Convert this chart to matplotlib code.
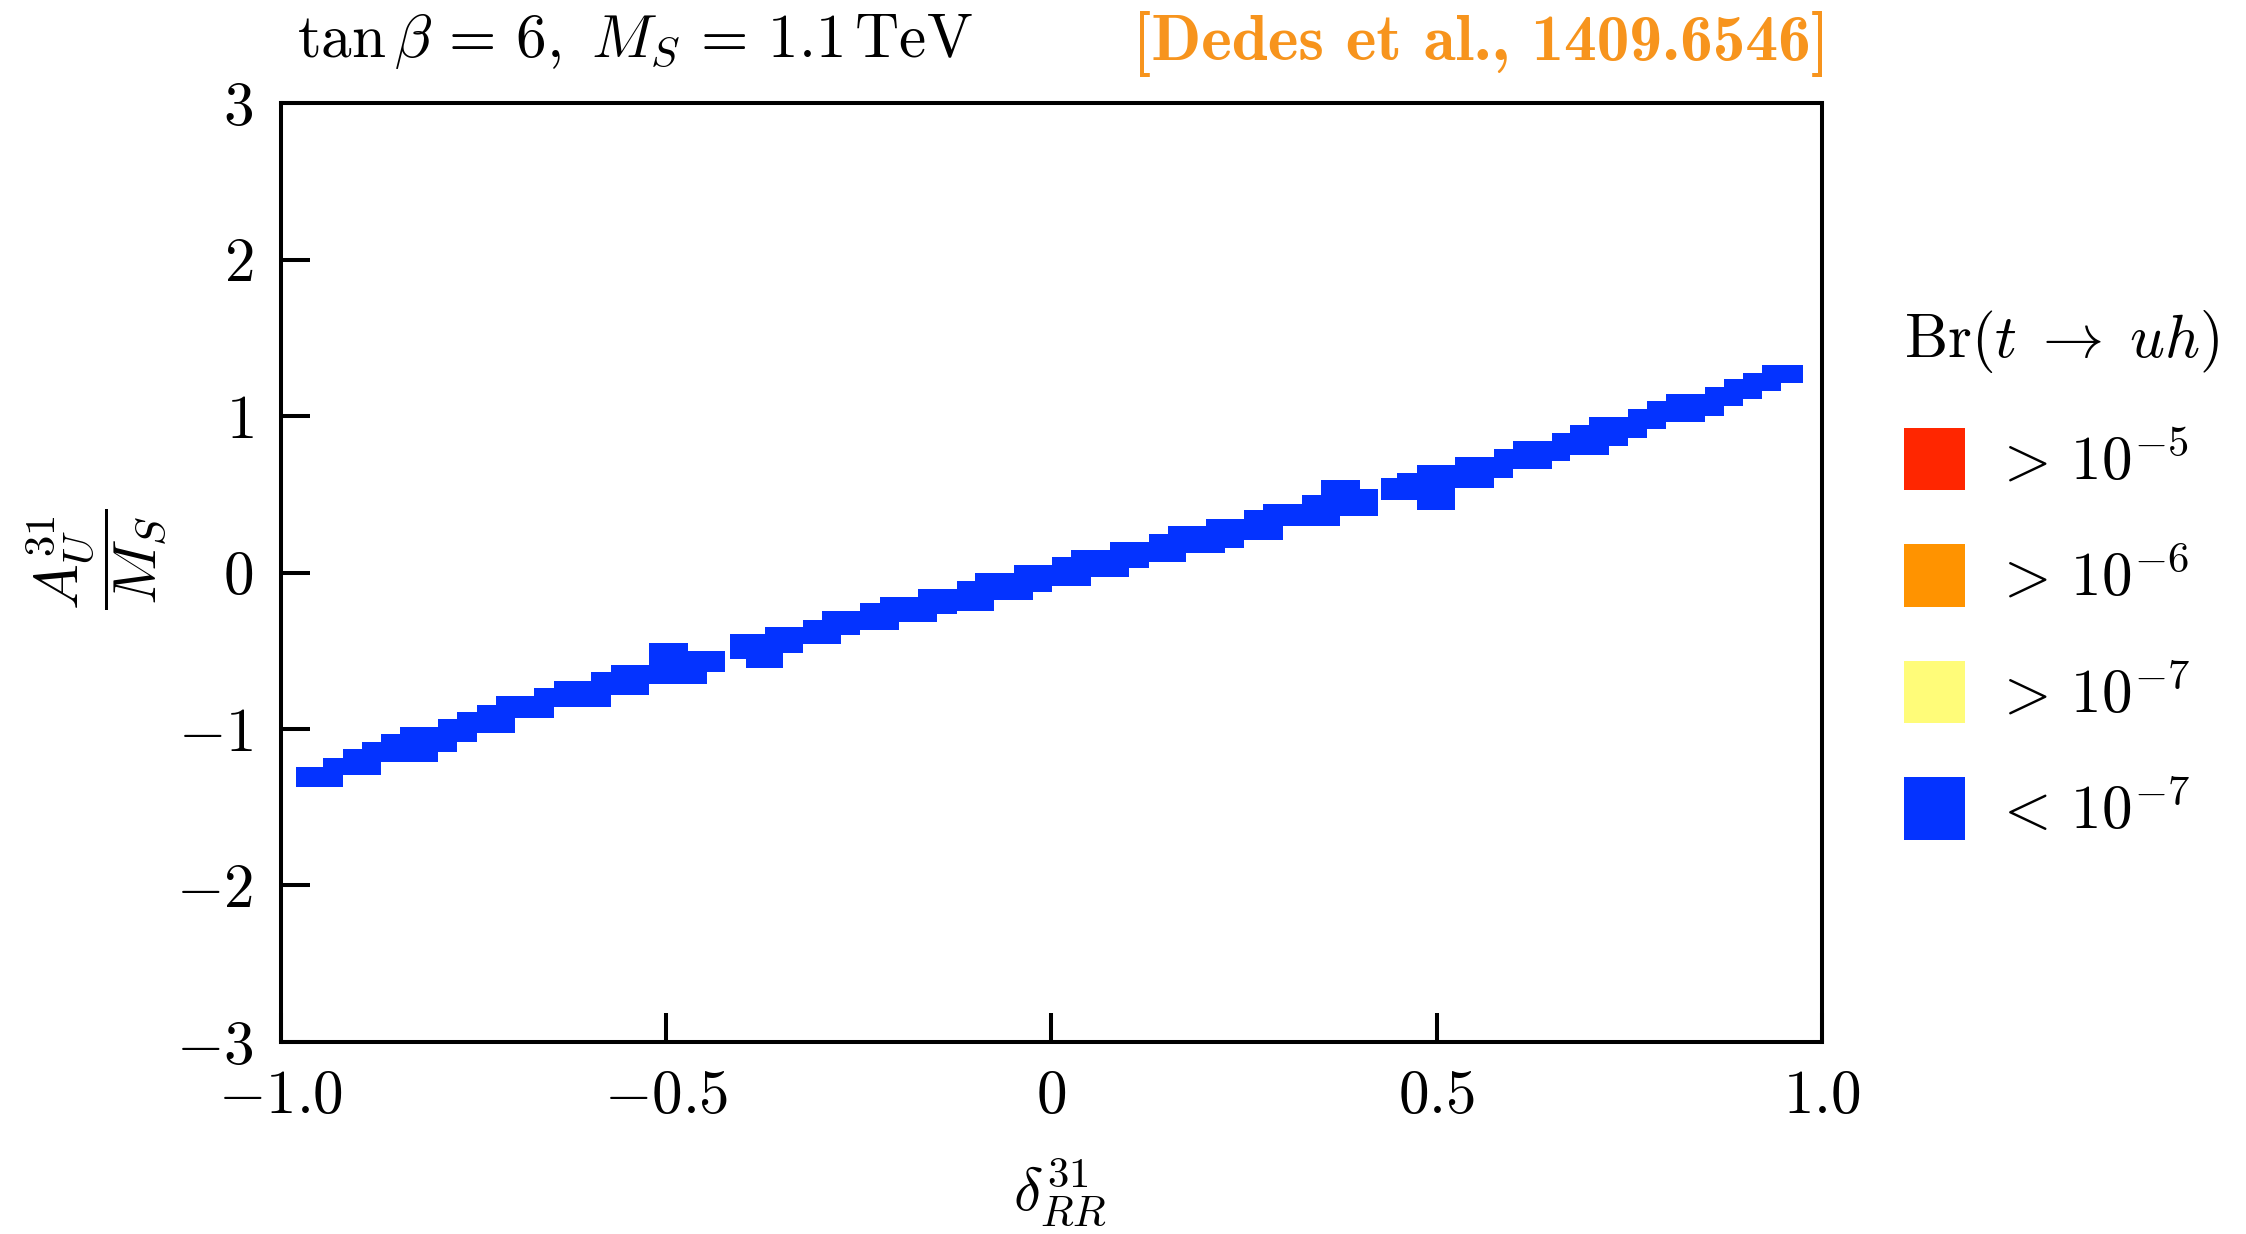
import numpy as np
import matplotlib
matplotlib.use('Agg')
import matplotlib.pyplot as plt
from matplotlib.patches import Patch

plt.rcParams['mathtext.fontset'] = 'cm'
plt.rcParams['font.family'] = 'serif'
plt.rcParams['font.serif'] = ['cmr10']
plt.rcParams['axes.unicode_minus'] = False

# scan in delta_RR^31: left edges of the columns, allowed band A_U^31/M_S (top, bottom)
delta_edges = [-0.980, -0.945, -0.920, -0.895, -0.870, -0.846, -0.821, -0.796, -0.771, -0.746,
               -0.721, -0.696, -0.671, -0.646, -0.621, -0.597, -0.572, -0.547, -0.522, -0.497,
               -0.472, -0.447, -0.422, -0.397, -0.372, -0.348, -0.323, -0.298, -0.273, -0.248,
               -0.223, -0.198, -0.173, -0.148, -0.123, -0.099, -0.074, -0.049, -0.024, 0.001,
               0.026, 0.051, 0.076, 0.101, 0.126, 0.151, 0.175, 0.200, 0.225, 0.250,
               0.275, 0.300, 0.325, 0.350, 0.375, 0.400, 0.424, 0.449, 0.474, 0.499,
               0.524, 0.549, 0.574, 0.599, 0.624, 0.649, 0.673, 0.698, 0.723, 0.748,
               0.773, 0.798, 0.823, 0.848, 0.873, 0.898, 0.922, 0.947, 0.975]

a_top = [-1.240, -1.188, -1.130, -1.084, -1.033, -0.989, -0.989, -0.937, -0.894, -0.844,
         -0.790, -0.790, -0.739, -0.695, -0.695, -0.637, -0.591, -0.591, -0.450, -0.450,
         -0.501, -0.501, -0.393, -0.393, -0.350, -0.350, -0.301, -0.249, -0.249, -0.197,
         -0.155, -0.155, -0.104, -0.104, -0.056, -0.003, -0.003, 0.045, 0.045, 0.097,
         0.144, 0.144, 0.193, 0.193, 0.246, 0.297, 0.297, 0.344, 0.344, 0.399,
         0.437, 0.437, 0.495, 0.591, 0.591, 0.531, 0.602, 0.637, 0.686, 0.686,
         0.736, 0.736, 0.791, 0.840, 0.840, 0.893, 0.941, 0.991, 0.991, 1.042,
         1.095, 1.138, 1.138, 1.186, 1.234, 1.278, 1.325, 1.325]

a_bot = [-1.368, -1.368, -1.293, -1.293, -1.208, -1.208, -1.208, -1.144, -1.084, -1.027,
         -1.027, -0.931, -0.931, -0.857, -0.857, -0.857, -0.784, -0.784, -0.715, -0.715,
         -0.715, -0.637, -0.550, -0.612, -0.612, -0.516, -0.455, -0.455, -0.399, -0.367,
         -0.367, -0.316, -0.316, -0.267, -0.246, -0.246, -0.173, -0.173, -0.123, -0.085,
         -0.085, -0.026, -0.026, 0.027, 0.069, 0.069, 0.123, 0.123, 0.155, 0.208,
         0.208, 0.300, 0.300, 0.300, 0.361, 0.361, 0.463, 0.463, 0.399, 0.399,
         0.538, 0.538, 0.602, 0.661, 0.661, 0.713, 0.750, 0.750, 0.810, 0.857,
         0.914, 0.959, 0.959, 1.001, 1.063, 1.106, 1.161, 1.208]

# small empty slits in the band
gap_idx = [22, 56]
gap_lo = [-0.424, 0.424]
gap_hi = [-0.417, 0.428]

br_labels = [r'$>\,10^{-5}$', r'$>\,10^{-6}$', r'$>\,10^{-7}$', r'$<\,10^{-7}$']
br_colors = ['#FF2600', '#FF9300', '#FFFC79', '#0433FF']

xticks = [-1.0, -0.5, 0.0, 0.5, 1.0]
xticklabels = [r'$-1.0$', r'$-0.5$', r'$0$', r'$0.5$', r'$1.0$']
yticks = [-3, -2, -1, 0, 1, 2, 3]
yticklabels = [r'$-3$', r'$-2$', r'$-1$', r'$0$', r'$1$', r'$2$', r'$3$']

fig = plt.figure(figsize=(22.46, 12.34), dpi=100)
ax = fig.add_axes([0.1251, 0.1556, 0.6861, 0.7609])

starts = [0] + gap_idx
ends = gap_idx + [len(a_top)]
for p in range(len(starts)):
    i0, i1 = starts[p], ends[p]
    xe = list(delta_edges[i0:i1 + 1])
    if p > 0:
        xe[0] = gap_hi[p - 1]
    if p < len(gap_idx):
        xe[-1] = gap_lo[p]
    top = a_top[i0:i1] + [a_top[i1 - 1]]
    bot = a_bot[i0:i1] + [a_bot[i1 - 1]]
    ax.fill_between(xe, bot, top, step='post', color=br_colors[3], lw=0)

ax.set_xlim(-1, 1)
ax.set_ylim(-3, 3)
ax.set_xticks(xticks)
ax.set_xticklabels(xticklabels)
ax.set_yticks(yticks)
ax.set_yticklabels(yticklabels)
ax.tick_params(direction='in', length=21, width=2.9, labelsize=44, top=False, right=False)
ax.tick_params(axis='x', pad=20)
ax.tick_params(axis='y', pad=20)
for s in ax.spines.values():
    s.set_linewidth(2.9)

ax.set_xlabel(r'$\delta^{31}_{RR}$', fontsize=44)
ax.xaxis.set_label_coords(0.5055, -0.122)
ax.set_ylabel(r'$\dfrac{A_U^{31}}{M_S}$', fontsize=44)
ax.yaxis.set_label_coords(-0.073, 0.514)

fig.text(297 / 2246, 1 - 57 / 1234, r'$\tan\beta\,=\,6,\ M_S\,=\,1.1\,\mathrm{TeV}$',
         fontsize=44, va='baseline', ha='left')
fig.text(1829 / 2246, 1 - 60 / 1234, '[Dedes et al., 1409.6546]', family='cmb10',
         fontsize=47, color='#F7941D', va='baseline', ha='right')

handles = [Patch(facecolor=c, edgecolor='none') for c in br_colors]
ax.legend(handles, br_labels, title=r'$\mathrm{Br}(t\;\to\;uh)$', loc='upper left',
          bbox_to_anchor=(0.8477, 1 - 308 / 1234), bbox_transform=fig.transFigure,
          frameon=False, fontsize=44, title_fontsize=44, handlelength=1.0, handleheight=1.2,
          handletextpad=0.45, labelspacing=0.86, borderpad=0, borderaxespad=0, alignment='left')

fig.savefig('out.png', dpi=100)
